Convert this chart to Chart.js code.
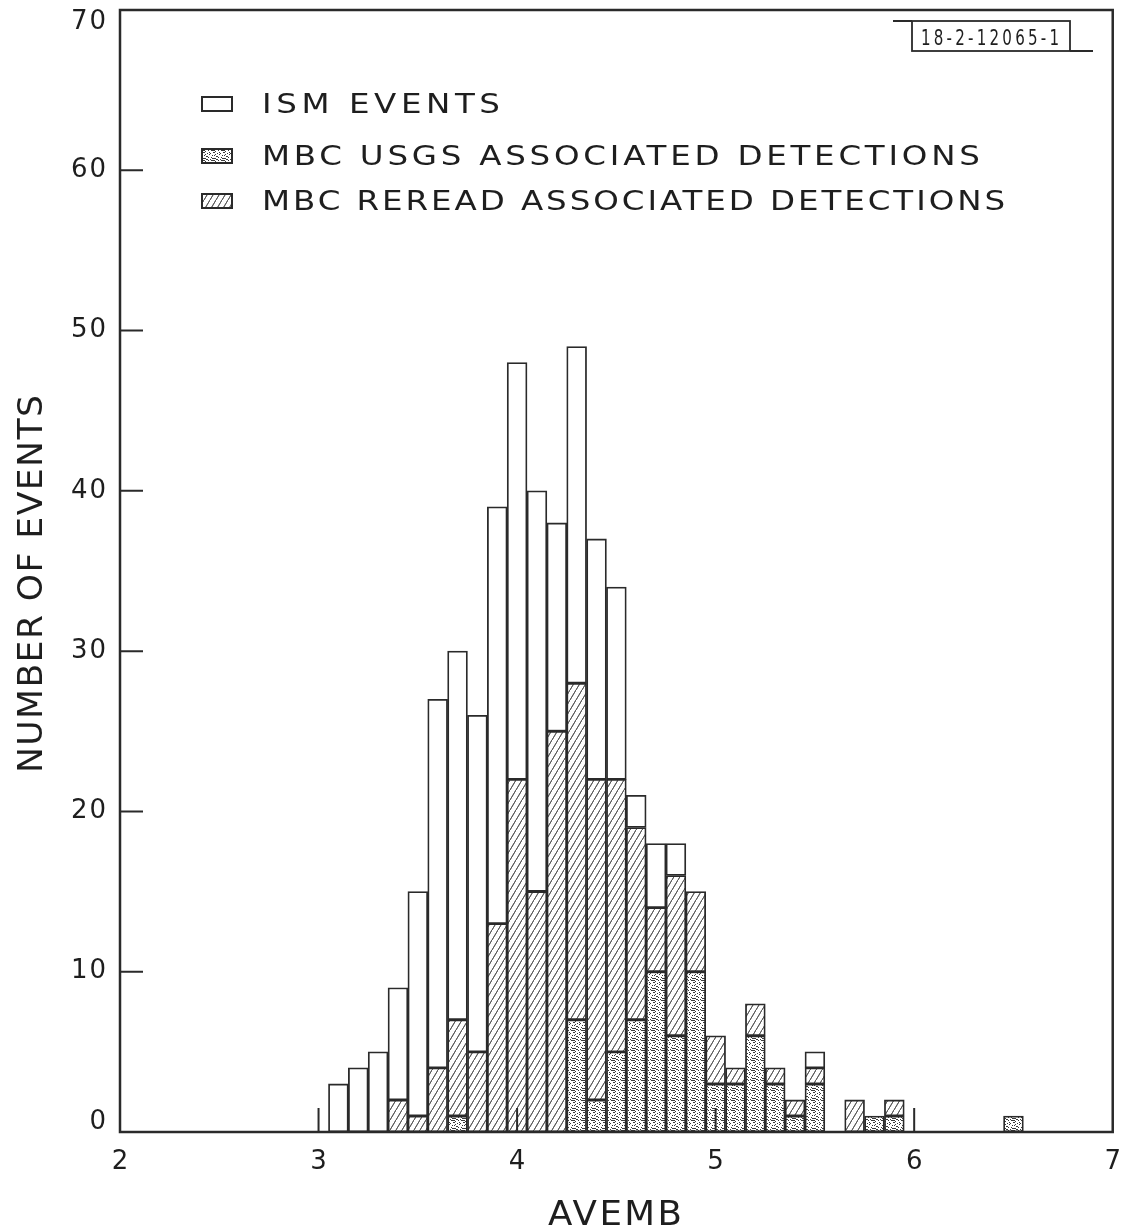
<!DOCTYPE html>
<html>
<head>
<meta charset="utf-8">
<script src="https://cdn.jsdelivr.net/npm/chart.js@4.4.1/dist/chart.umd.min.js"></script>
<style>
  html, body { margin: 0; padding: 0; background: #fff; }
</style>
</head>
<body>
<canvas id="histChart" width="1128" height="1232"></canvas>
<script>
// bin centres (AVEMB) and counts
const avemb = [3.1, 3.2, 3.3, 3.4, 3.5, 3.6, 3.7, 3.8, 3.9, 4.0,
               4.1, 4.2, 4.3, 4.4, 4.5, 4.6, 4.7, 4.8, 4.9, 5.0,
               5.1, 5.2, 5.3, 5.4, 5.5, 5.6, 5.7, 5.8, 5.9, 6.0,
               6.1, 6.2, 6.3, 6.4, 6.5];
const ismEvents = [3, 4, 5, 9, 15, 27, 30, 26, 39, 48,
                   40, 38, 49, 37, 34, 21, 18, 18, 15, 6,
                   4, 8, 4, 2, 5, 0, 2, 1, 2, 0,
                   0, 0, 0, 0, 1];
const rereadDetections = [0, 0, 0, 2, 1, 4, 7, 5, 13, 22,
                          15, 25, 28, 22, 22, 19, 14, 16, 15, 6,
                          4, 8, 4, 2, 4, 0, 2, 1, 2, 0,
                          0, 0, 0, 0, 1];
const usgsDetections = [0, 0, 0, 0, 0, 0, 1, 0, 0, 0,
                        0, 0, 7, 2, 5, 7, 10, 6, 10, 3,
                        3, 6, 3, 1, 3, 0, 0, 1, 1, 0,
                        0, 0, 0, 0, 1];
const yTicks = [0, 10, 20, 30, 40, 50, 60, 70];
const xTicks = [2, 3, 4, 5, 6, 7];
const seriesNames = ["ISM EVENTS", "MBC USGS ASSOCIATED DETECTIONS", "MBC REREAD ASSOCIATED DETECTIONS"];
const xTitle = "AVEMB";
const yTitle = "NUMBER OF EVENTS";
const figureId = "18-2-12065-1";

const INK = "#2a2a2a";
const canvas = document.getElementById("histChart");
const mainCtx = canvas.getContext("2d");

function makeHatch() {
  const c = document.createElement("canvas");
  c.width = 6; c.height = 10;
  const g = c.getContext("2d");
  g.fillStyle = "#fff";
  g.fillRect(0, 0, 6, 10);
  g.strokeStyle = "#555";
  g.lineWidth = 0.9;
  g.beginPath();
  g.moveTo(-6, 20); g.lineTo(6, 0);
  g.moveTo(0, 10); g.lineTo(6, 0);
  g.moveTo(0, 20); g.lineTo(12, 0);
  g.stroke();
  return mainCtx.createPattern(c, "repeat");
}

function makeStipple() {
  const c = document.createElement("canvas");
  c.width = 10; c.height = 10;
  const g = c.getContext("2d");
  g.fillStyle = "#fff";
  g.fillRect(0, 0, 10, 10);
  g.fillStyle = "#3a3a3a";
  const dots = [[1,0],[5,1],[8,0],[3,2],[7,3],[0,3],[9,4],[4,5],[2,5],
                [6,6],[1,7],[8,7],[4,8],[0,9],[6,9],[3,0],[9,2],[5,4],[2,8],[7,9]];
  dots.forEach(([x, y], i) => g.fillRect(x, y, i % 3 === 0 ? 2 : 1, 1));
  return mainCtx.createPattern(c, "repeat");
}

const hatch = makeHatch();
const stipple = makeStipple();

function segments(lower, upper) {
  const pts = [];
  avemb.forEach((x, i) => {
    const a = lower ? lower[i] : 0;
    const b = upper[i];
    if (b > a) pts.push({ x: x, y: [a, b] });
  });
  return pts;
}

// lettering-style text: stretched horizontally, spaced to fill a width
function drawSpaced(ctx, text, x, y, width, stretch) {
  const k = stretch || 1;
  ctx.save();
  ctx.translate(x, y);
  ctx.scale(k, 1);
  ctx.letterSpacing = "0px";
  const natural = ctx.measureText(text).width;
  const sp = (width / k - natural) / Math.max(1, text.length - 1);
  ctx.letterSpacing = sp.toFixed(2) + "px";
  ctx.textAlign = "left";
  ctx.fillText(text, 0, 0);
  ctx.restore();
}

const decorations = {
  id: "decorations",
  afterDraw(chart) {
    const ctx = chart.ctx;
    const area = chart.chartArea;
    const xs = chart.scales.x;
    const ys = chart.scales.y;
    ctx.save();

    // frame
    ctx.strokeStyle = INK;
    ctx.lineWidth = 2.5;
    ctx.strokeRect(area.left, area.top, area.right - area.left, area.bottom - area.top);

    // inward ticks
    ctx.lineWidth = 2;
    ctx.beginPath();
    yTicks.slice(1, -1).forEach(v => {
      const y = ys.getPixelForValue(v);
      ctx.moveTo(area.left, y); ctx.lineTo(area.left + 23, y);
    });
    xTicks.slice(1, -1).forEach(v => {
      const x = xs.getPixelForValue(v);
      ctx.moveTo(x, area.bottom); ctx.lineTo(x, area.bottom - 24);
    });
    ctx.stroke();

    // y tick labels
    ctx.fillStyle = "#1e1e1e";
    ctx.font = "26px 'DejaVu Sans'";
    ctx.textAlign = "right";
    ctx.textBaseline = "middle";
    ctx.letterSpacing = "2px";
    yTicks.forEach((v, i) => {
      let y = ys.getPixelForValue(v);
      if (i === 0) y -= 10;
      if (i === yTicks.length - 1) y += 12;
      ctx.fillText(String(v), area.left - 12, y);
    });
    ctx.letterSpacing = "0px";
    ctx.textBaseline = "alphabetic";

    // axis titles
    ctx.font = "33px 'DejaVu Sans'";
    drawSpaced(ctx, xTitle, 548, 1225, 134, 1.08);
    ctx.save();
    ctx.translate(42, 584);
    ctx.rotate(-Math.PI / 2);
    drawSpaced(ctx, yTitle, -189, 0, 378, 1.05);
    ctx.restore();

    // legend
    const fills = ["#fff", stipple, hatch];
    const baselines = [113, 165, 210];
    const widths = [238, 718, 743];
    ctx.font = "26px 'DejaVu Sans'";
    seriesNames.forEach((name, i) => {
      const b = baselines[i];
      ctx.fillStyle = fills[i];
      ctx.fillRect(202, b - 16, 30, 14);
      ctx.strokeStyle = INK;
      ctx.lineWidth = 2;
      ctx.strokeRect(202, b - 16, 30, 14);
      ctx.fillStyle = "#1e1e1e";
      drawSpaced(ctx, name, 262, b, widths[i], 1.25);
    });

    // figure id box
    ctx.lineWidth = 1.8;
    ctx.strokeStyle = INK;
    ctx.strokeRect(912, 21, 158, 30);
    ctx.beginPath();
    ctx.moveTo(893, 21); ctx.lineTo(912, 21);
    ctx.moveTo(1070, 51); ctx.lineTo(1093, 51);
    ctx.stroke();
    ctx.font = "21px 'DejaVu Sans Condensed', 'Liberation Sans', sans-serif";
    ctx.fillStyle = "#1e1e1e";
    drawSpaced(ctx, figureId, 921, 45, 138, 0.8);

    ctx.restore();
  }
};

new Chart(canvas, {
  type: "bar",
  data: {
    datasets: [
      { label: seriesNames[0], data: segments(rereadDetections, ismEvents), backgroundColor: "#fff" },
      { label: seriesNames[2], data: segments(usgsDetections, rereadDetections), backgroundColor: hatch },
      { label: seriesNames[1], data: segments(null, usgsDetections), backgroundColor: stipple }
    ]
  },
  options: {
    responsive: false,
    animation: false,
    grouped: false,
    categoryPercentage: 1,
    barPercentage: 1,
    borderColor: INK,
    borderWidth: 1.8,
    borderSkipped: false,
    layout: { padding: { left: 120, top: 10, right: 8, bottom: 0 } },
    plugins: { legend: { display: false }, tooltip: { enabled: false } },
    scales: {
      x: {
        type: "linear",
        min: 2,
        max: 7,
        offset: false,
        grid: { display: false, offset: false },
        border: { display: false },
        ticks: {
          stepSize: 1,
          padding: 7,
          color: "#1e1e1e",
          font: { family: "'DejaVu Sans'", size: 26 },
          maxRotation: 0
        },
        afterFit(scale) { scale.height = 100; }
      },
      y: {
        display: false,
        min: 0,
        max: 70
      }
    }
  },
  plugins: [decorations]
});
</script>
</body>
</html>
